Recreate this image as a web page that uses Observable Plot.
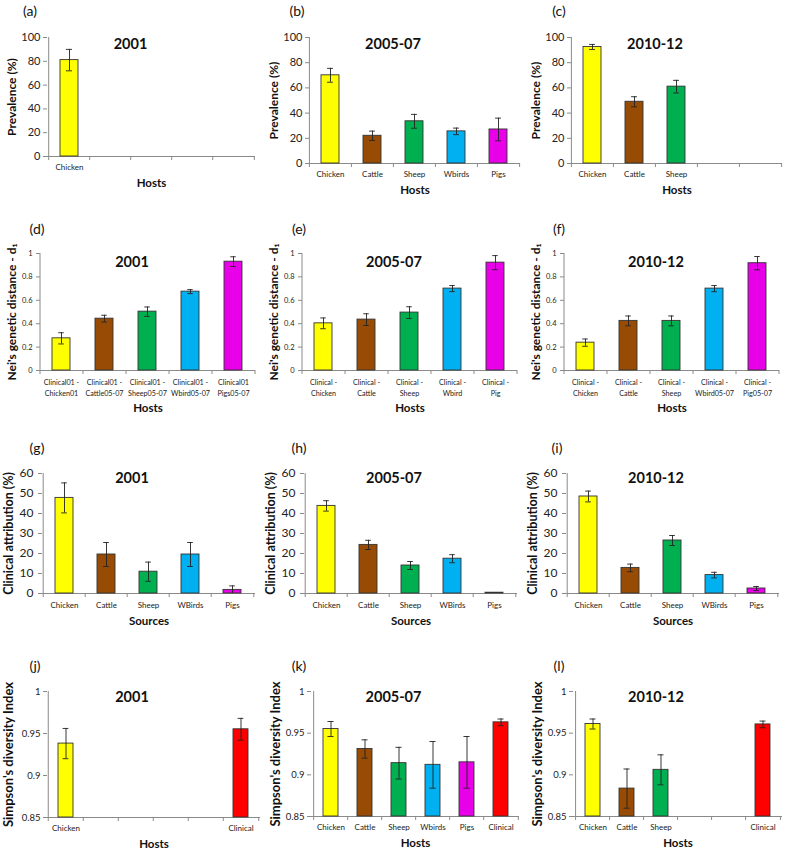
<!DOCTYPE html>
<html><head><meta charset="utf-8">
<script src="https://cdn.jsdelivr.net/npm/d3@7"></script>
<script src="https://cdn.jsdelivr.net/npm/@observablehq/plot@0.6"></script>
<style>
body{margin:0;background:#fff;}
#chart{position:relative;width:787px;height:852px;font-family:Lato,"Open Sans",sans-serif;background:#fff;overflow:hidden;}
.panel{position:absolute;}
.plabel{position:absolute;font-size:14px;color:#111;transform:translate(-50%,-50%);white-space:nowrap;}
</style></head><body><div id="chart"></div>
<script>
// ---------- DATA ----------
// Row 1: prevalence (%)
const prevHosts = ["Chicken", "Cattle", "Sheep", "Wbirds", "Pigs"];
const prev2001 = [81, null, null, null, null];
const prev2001Err = [9, null, null, null, null];
const prev0507 = [70, 22, 33.5, 25.5, 27];
const prev0507Err = [5.5, 3.7, 5.5, 2.6, 9];
const prev1012 = [92.5, 49, 61, null, null];
const prev1012Err = [2, 4, 5, null, null];
const prevTicks = [0, 20, 40, 60, 80, 100];

// Row 2: Nei's genetic distance
const neiLabels2001 = ["Clinical01 -\nChicken01", "Clinical01 -\nCattle05-07", "Clinical01 -\nSheep05-07", "Clinical01 -\nWbird05-07", "Clinical01\nPigs05-07"];
const nei2001 = [0.275, 0.443, 0.503, 0.674, 0.93];
const nei2001Err = [0.048, 0.029, 0.04, 0.017, 0.042];
const neiLabels0507 = ["Clinical -\nChicken", "Clinical -\nCattle", "Clinical -\nSheep", "Clinical -\nWbird", "Clinical -\nPig"];
const nei0507 = [0.403, 0.435, 0.495, 0.70, 0.922];
const nei0507Err = [0.046, 0.05, 0.05, 0.026, 0.06];
const neiLabels1012 = ["Clinical -\nChicken", "Clinical -\nCattle", "Clinical -\nSheep", "Clinical -\nWbird05-07", "Clinical -\nPig05-07"];
const nei1012 = [0.238, 0.424, 0.424, 0.70, 0.917];
const nei1012Err = [0.031, 0.042, 0.042, 0.026, 0.057];
const neiTicks = [0, 0.2, 0.4, 0.6, 0.8, 1];

// Row 3: clinical attribution (%)
const sources = ["Chicken", "Cattle", "Sheep", "WBirds", "Pigs"];
const attr2001 = [47.8, 19.5, 10.9, 19.5, 1.8];
const attr2001Err = [7.5, 6, 4.8, 6, 2];
const attr0507 = [43.8, 24.3, 14, 17.4, 0.4];
const attr0507Err = [2.6, 2.3, 2, 2, 0];
const attr1012 = [48.5, 12.8, 26.5, 9.2, 2.5];
const attr1012Err = [2.7, 1.9, 2.5, 1.4, 1];
const attrTicks = [0, 10, 20, 30, 40, 50, 60];

// Row 4: Simpson's diversity index
const simpHosts = ["Chicken", "Cattle", "Sheep", "Wbirds", "Pigs", "Clinical"];
const simp2001 = [0.938, null, null, null, null, 0.955];
const simp2001Err = [0.018, null, null, null, null, 0.013];
const simp0507 = [0.955, 0.931, 0.914, 0.912, 0.915, 0.963];
const simp0507Err = [0.009, 0.011, 0.019, 0.028, 0.031, 0.004];
const simp1012 = [0.961, 0.8835, 0.906, null, null, 0.9605];
const simp1012Err = [0.006, 0.0235, 0.018, null, null, 0.004];
const simpTicks = [0.85, 0.9, 0.95, 1];

const periods = ["2001", "2005-07", "2010-12"];
const panelLetters = ["(a)","(b)","(c)","(d)","(e)","(f)","(g)","(h)","(i)","(j)","(k)","(l)"];

// ---------- STYLE ----------
const palette = ["#FFFF00", "#984B05", "#00B050", "#00B0F0", "#E800E8", "#FF0000"];
const FONT = "Lato, 'Open Sans', sans-serif";
const AXIS = "#8a8a8a";
const fmt = d => String(+d.toFixed(2));

function panel(p) {
  const n = p.labels.length;
  const keys = p.labels.map((_, i) => "slot" + i);
  const base = p.yDomain[0];
  const data = p.values.map((v, i) => ({key: keys[i], label: p.labels[i], v, e: p.errs[i], color: palette[i]}))
    .filter(d => d.v != null);
  const errData = data.filter(d => d.e > 0);
  const shown = new Map(data.map(d => [d.key, d.label]));
  const plotW = p.width - p.ml - p.mr;
  const step = plotW / n;
  const bw = step * (1 - 0.57);
  const capInset = (bw - 6) / 2;
  return Plot.plot({
    width: p.width, height: p.height,
    marginLeft: p.ml, marginRight: p.mr, marginTop: p.mt, marginBottom: p.mb,
    style: {fontFamily: FONT, background: "transparent", overflow: "visible", color: "#222"},
    x: {type: "band", domain: keys, paddingInner: 0.57, paddingOuter: 0.285, axis: null},
    y: {domain: p.yDomain, axis: null},
    color: {type: "identity"},
    marks: [
      Plot.axisY({ticks: p.yTicks, tickFormat: fmt, tickSize: 4, tickPadding: p.yPad, fontSize: p.yFont, stroke: AXIS, fill: "#222", label: null}),
      Plot.axisX({tickSize: 0, tickPadding: p.xPad, tickFormat: k => shown.get(k) ?? "", fontSize: p.xFont, lineHeight: p.lh ?? 1, fill: "#222", label: null}),
      Plot.axisX({tickSize: 4, dx: -step / 2, tickFormat: () => "", stroke: AXIS, label: null}),
      Plot.axisX({ticks: [keys[n - 1]], tickSize: 4, dx: step / 2, tickFormat: () => "", stroke: AXIS, label: null}),
      Plot.ruleY([base], {stroke: AXIS}),
      Plot.ruleX([keys[0]], {x: d => d, dx: -step / 2, y1: p.yDomain[0], y2: p.yDomain[1], stroke: AXIS}),
      Plot.barY(data, {x: "key", y1: base, y2: "v", fill: "color", stroke: "#333", strokeWidth: 0.9}),
      Plot.ruleX(errData, {x: "key", y1: d => Math.max(base, d.v - d.e), y2: d => d.v + d.e, stroke: "#222", strokeWidth: 0.9}),
      Plot.tickY(errData, {x: "key", y: d => d.v + d.e, insetLeft: capInset, insetRight: capInset, stroke: "#222", strokeWidth: 0.9}),
      Plot.tickY(errData.filter(d => d.v - d.e > base), {x: "key", y: d => d.v - d.e, insetLeft: capInset, insetRight: capInset, stroke: "#222", strokeWidth: 0.9}),
      Plot.text([p.title], {text: d => d, frameAnchor: "top", dx: p.tdx, dy: p.tdy, fontSize: 14.5, fontWeight: "bold", lineAnchor: "middle", fill: "#111"}),
      Plot.text([p.xLabel], {text: d => d, frameAnchor: "bottom", dy: p.xlDy, fontSize: 11.5, fontWeight: "bold", lineAnchor: "middle", fill: "#111"}),
      Plot.text([p.yLabel], {text: d => d, frameAnchor: "left", dx: -p.ylOff, rotate: -90, textAnchor: "middle", fontSize: p.ylFont, fontWeight: "bold", lineAnchor: "middle", fill: "#111"})
    ]
  });
}

const rows = [
  {top: 0, height: 200, mt: 37, yDomain: [0, 100], yTicks: prevTicks, yFont: 11, yPad: 3, xFont: 8, xPad: 8, yLabel: "Prevalence (%)", ylFont: 12, ylOff: 35, xLabel: "Hosts", xlDy: 27, tdy: 7,
   panels: [
     {labels: prevHosts, values: prev2001, errs: prev2001Err, ml: 47, mr: 7, mb: 44, tdx: -21},
     {labels: prevHosts, values: prev0507, errs: prev0507Err, ml: 47, mr: 4, mb: 37, tdx: -22},
     {labels: prevHosts, values: prev1012, errs: prev1012Err, ml: 47, mr: 5, mb: 37, tdx: -22}
   ]},
  {top: 200, height: 215, mt: 53, yDomain: [0, 1], yTicks: neiTicks, yFont: 7.5, yPad: 4, xFont: 7.2, xPad: 7, lh: 1.5, yLabel: "Nei's genetic distance - d\u2081", ylFont: 12, ylOff: 28, xLabel: "Hosts", xlDy: 38, tdy: 9,
   panels: [
     {labels: neiLabels2001, values: nei2001, errs: nei2001Err, ml: 40, mr: 7, mb: 45, tdx: -16},
     {labels: neiLabels0507, values: nei0507, errs: nei0507Err, ml: 40, mr: 7, mb: 45, tdx: -16},
     {labels: neiLabels1012, values: nei1012, errs: nei1012Err, ml: 40, mr: 8, mb: 45, tdx: -16}
   ]},
  {top: 410, height: 220, mt: 63, yDomain: [0, 60], yTicks: attrTicks, yFont: 12, yPad: 5, xFont: 8, xPad: 9, yLabel: "Clinical attribution (%)", ylFont: 12.5, ylOff: 34, xLabel: "Sources", xlDy: 28, tdy: 5,
   panels: [
     {labels: sources, values: attr2001, errs: attr2001Err, ml: 42, mr: 7, mb: 37, tdx: -17},
     {labels: sources, values: attr0507, errs: attr0507Err, ml: 42, mr: 7, mb: 37, tdx: -17},
     {labels: sources, values: attr1012, errs: attr1012Err, ml: 42, mr: 8, mb: 37, tdx: -17}
   ]},
  {top: 620, height: 232, mt: 71, yDomain: [0.85, 1], yTicks: simpTicks, yFont: 9.5, yPad: 3, xFont: 8, xPad: 8, yLabel: "Simpson's diversity Index", ylFont: 13, ylOff: 39, xLabel: "Hosts", xlDy: 27, tdy: 6,
   panels: [
     {labels: simpHosts, values: simp2001, errs: simp2001Err, ml: 47, mr: 2, mb: 35, tdx: -22},
     {labels: simpHosts, values: simp0507, errs: simp0507Err, ml: 49, mr: 5, mb: 36, tdx: -22, ylOff: 36},
     {labels: simpHosts, values: simp1012, errs: simp1012Err, ml: 49, mr: 5, mb: 36, tdx: -22, ylOff: 36}
   ]}
];
const colLeft = [0, 262, 524];
const colWidth = [262, 262, 263];
const letterPos = [
  [30, 10], [297, 10], [559, 10],
  [37, 228], [299, 228], [559, 228],
  [37, 447], [299, 447], [557, 447],
  [35, 665], [299, 665], [559, 665]
];

const root = document.getElementById("chart");
rows.forEach((row, r) => {
  row.panels.forEach((pp, c) => {
    const cfg = Object.assign({}, row, pp, {width: colWidth[c], title: periods[c]});
    const svg = panel(cfg);
    const div = document.createElement("div");
    div.className = "panel";
    div.style.left = colLeft[c] + "px";
    div.style.top = row.top + "px";
    div.appendChild(svg);
    root.appendChild(div);
    const k = r * 3 + c;
    const lab = document.createElement("div");
    lab.className = "plabel";
    lab.textContent = panelLetters[k];
    lab.style.left = letterPos[k][0] + "px";
    lab.style.top = letterPos[k][1] + "px";
    root.appendChild(lab);
  });
});
</script></body></html>
